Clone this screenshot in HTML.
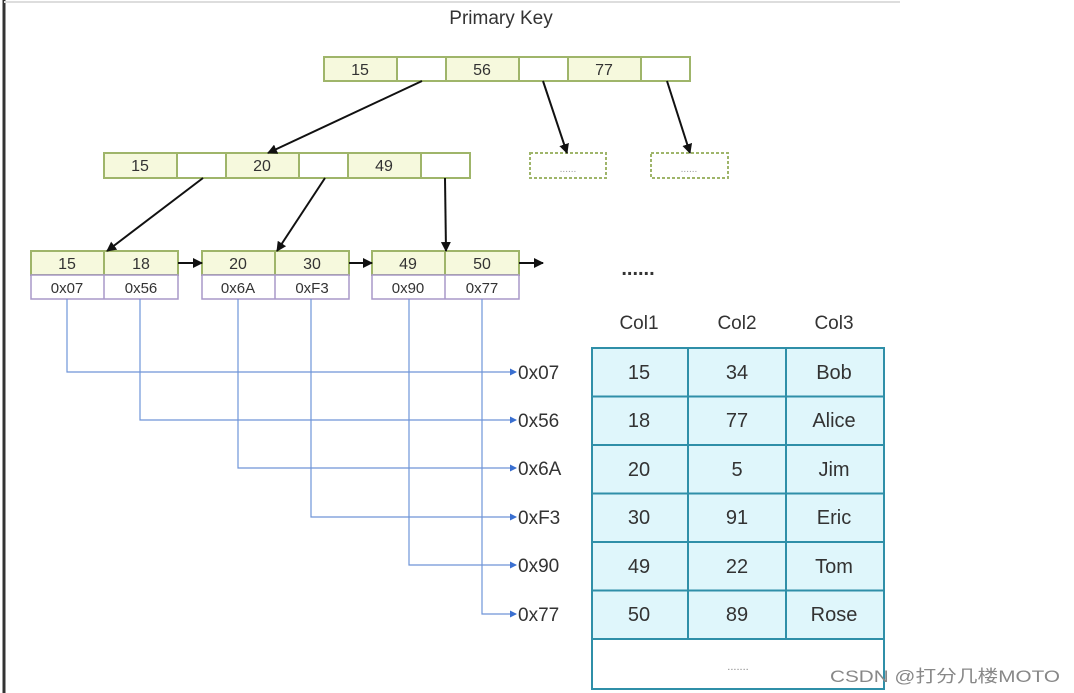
<!DOCTYPE html>
<html><head><meta charset="utf-8"><style>
body{margin:0;width:1074px;height:693px;background:#fff;overflow:hidden;position:relative;font-family:"Liberation Sans","Noto Sans CJK SC",sans-serif}
svg{position:absolute;left:0;top:0}
</style></head><body>
<svg width="1074" height="693" viewBox="0 0 1074 693" font-family="Liberation Sans, Noto Sans CJK SC, sans-serif">
<defs>
<marker id="a" markerWidth="10" markerHeight="10" refX="9" refY="5" orient="auto" markerUnits="userSpaceOnUse"><path d="M0,0 L10,5 L0,10 z" fill="#111"/></marker>
<marker id="b" markerWidth="7" markerHeight="7" refX="6" refY="3.5" orient="auto" markerUnits="userSpaceOnUse"><path d="M0,0 L7,3.5 L0,7 z" fill="#3a6fd0"/></marker>
</defs>
<line x1="4" y1="0" x2="4" y2="693" stroke="#333" stroke-width="3"/>
<line x1="4" y1="2" x2="900" y2="2" stroke="#ddd" stroke-width="2"/>
<text x="501" y="24" font-size="19" text-anchor="middle" fill="#333">Primary Key</text>
<g stroke="#9fb56a" stroke-width="2" font-size="16" fill="#333" text-anchor="middle">
<rect x="324" y="57" width="366" height="24" fill="#fff"/>
<rect x="324" y="57" width="73" height="24" fill="#f6f9dd"/><rect x="446" y="57" width="73" height="24" fill="#f6f9dd"/><rect x="568" y="57" width="73" height="24" fill="#f6f9dd"/>
<line x1="397" y1="57" x2="397" y2="81"/><line x1="519" y1="57" x2="519" y2="81"/><line x1="641" y1="57" x2="641" y2="81"/>
<rect x="104" y="153" width="366" height="25" fill="#fff"/>
<rect x="104" y="153" width="73" height="25" fill="#f6f9dd"/><rect x="226" y="153" width="73" height="25" fill="#f6f9dd"/><rect x="348" y="153" width="73" height="25" fill="#f6f9dd"/>
<line x1="177" y1="153" x2="177" y2="178"/><line x1="299" y1="153" x2="299" y2="178"/><line x1="421" y1="153" x2="421" y2="178"/>
<rect x="530" y="153" width="76" height="25" fill="#fff" stroke-dasharray="3,2"/>
<rect x="651" y="153" width="77" height="25" fill="#fff" stroke-dasharray="3,2"/>
<rect x="31" y="251" width="147" height="24" fill="#f6f9dd"/><line x1="104" y1="251" x2="104" y2="275"/>
<rect x="202" y="251" width="147" height="24" fill="#f6f9dd"/><line x1="275" y1="251" x2="275" y2="275"/>
<rect x="372" y="251" width="147" height="24" fill="#f6f9dd"/><line x1="445" y1="251" x2="445" y2="275"/>
</g>
<g stroke="#a998c8" stroke-width="1.5" fill="#fff">
<rect x="31" y="275" width="147" height="24"/><line x1="104" y1="275" x2="104" y2="299"/>
<rect x="202" y="275" width="147" height="24"/><line x1="275" y1="275" x2="275" y2="299"/>
<rect x="372" y="275" width="147" height="24"/><line x1="445" y1="275" x2="445" y2="299"/>
</g>
<g font-size="16" fill="#333" text-anchor="middle">
<text x="360" y="75">15</text><text x="482" y="75">56</text><text x="604" y="75">77</text>
<text x="140" y="171">15</text><text x="262" y="171">20</text><text x="384" y="171">49</text>
<text x="568" y="172" font-size="10" fill="#999">......</text><text x="689" y="172" font-size="10" fill="#999">......</text>
<text x="67" y="269">15</text><text x="141" y="269">18</text><text x="238" y="269">20</text><text x="312" y="269">30</text><text x="408" y="269">49</text><text x="482" y="269">50</text>
<g font-size="15"><text x="67" y="293">0x07</text><text x="141" y="293">0x56</text><text x="238" y="293">0x6A</text><text x="312" y="293">0xF3</text><text x="408" y="293">0x90</text><text x="482" y="293">0x77</text></g>
<text x="638" y="275" font-size="20" font-weight="bold">......</text>
</g>
<g stroke="#111" stroke-width="2" marker-end="url(#a)">
<line x1="422" y1="81" x2="268" y2="153"/><line x1="543" y1="81" x2="567" y2="153"/><line x1="667" y1="81" x2="690" y2="153"/>
<line x1="203" y1="178" x2="107" y2="251"/><line x1="325" y1="178" x2="277" y2="251"/><line x1="445" y1="178" x2="446" y2="251"/>
<line x1="178" y1="263" x2="202" y2="263"/><line x1="349" y1="263" x2="372" y2="263"/><line x1="519" y1="263" x2="543" y2="263"/>
</g>
<g stroke="#6f95d8" stroke-width="1.2" fill="none" marker-end="url(#b)">
<path d="M67,299 V372 H516"/><path d="M140,299 V420 H516"/><path d="M238,299 V468 H516"/><path d="M311,299 V517 H516"/><path d="M409,299 V565 H516"/><path d="M482,299 V614 H516"/>
</g>
<g font-size="19" fill="#333">
<text x="518" y="379">0x07</text><text x="518" y="427">0x56</text><text x="518" y="475">0x6A</text><text x="518" y="524">0xF3</text><text x="518" y="572">0x90</text><text x="518" y="621">0x77</text>
</g>
<g font-size="19" fill="#333" text-anchor="middle">
<text x="639" y="329">Col1</text><text x="737" y="329">Col2</text><text x="834" y="329">Col3</text>
</g>
<rect x="592" y="348" width="292" height="291" fill="#dff6fb" stroke="#2f8fa8" stroke-width="2"/>
<rect x="592" y="639" width="292" height="50" fill="#fff" stroke="#2f8fa8" stroke-width="2"/>
<g stroke="#2f8fa8" stroke-width="2">
<line x1="688" y1="348" x2="688" y2="639"/><line x1="786" y1="348" x2="786" y2="639"/>
<line x1="592" y1="396.5" x2="884" y2="396.5"/><line x1="592" y1="445" x2="884" y2="445"/><line x1="592" y1="493.5" x2="884" y2="493.5"/><line x1="592" y1="542" x2="884" y2="542"/><line x1="592" y1="590.5" x2="884" y2="590.5"/>
</g>
<g font-size="20" fill="#333" text-anchor="middle">
<text x="639" y="379">15</text><text x="737" y="379">34</text><text x="834" y="379">Bob</text>
<text x="639" y="427">18</text><text x="737" y="427">77</text><text x="834" y="427">Alice</text>
<text x="639" y="476">20</text><text x="737" y="476">5</text><text x="834" y="476">Jim</text>
<text x="639" y="524">30</text><text x="737" y="524">91</text><text x="834" y="524">Eric</text>
<text x="639" y="573">49</text><text x="737" y="573">22</text><text x="834" y="573">Tom</text>
<text x="639" y="621">50</text><text x="737" y="621">89</text><text x="834" y="621">Rose</text>
<text x="738" y="670" font-size="11" fill="#888">.......</text>
</g>
<text x="830" y="682" font-size="17" fill="#888" textLength="230" lengthAdjust="spacingAndGlyphs">CSDN @打分几楼MOTO</text>
</svg>
</body></html>
